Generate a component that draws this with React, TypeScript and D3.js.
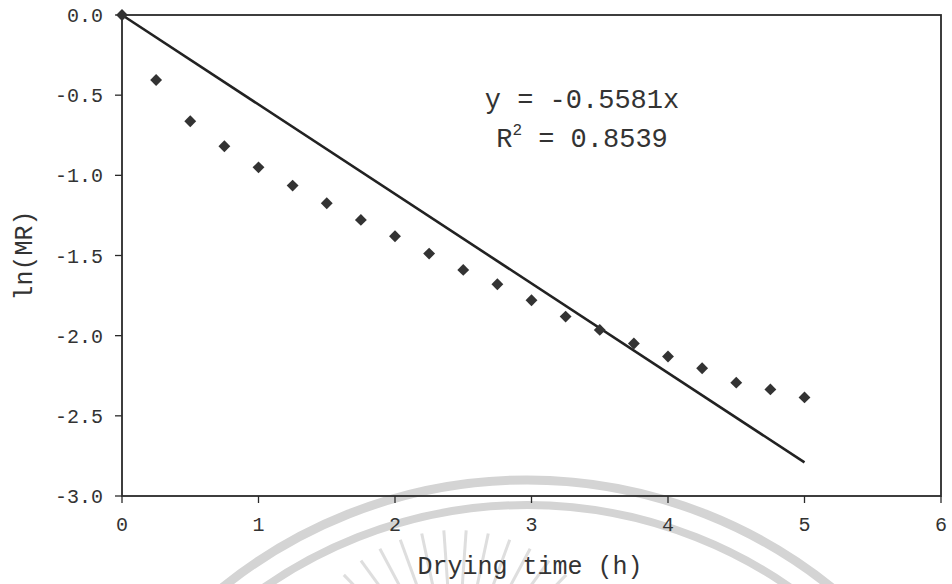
import React from "react";
import * as d3 from "d3";

const timeH = [0, 0.25, 0.5, 0.75, 1, 1.25, 1.5, 1.75, 2, 2.25, 2.5, 2.75, 3, 3.25, 3.5, 3.75, 4, 4.25, 4.5, 4.75, 5];
const lnMR = [0, -0.405, -0.663, -0.819, -0.95, -1.064, -1.174, -1.278, -1.38, -1.488, -1.59, -1.679, -1.779, -1.881, -1.964, -2.049, -2.13, -2.203, -2.293, -2.335, -2.385];
const slope = -0.5581;
const r2 = 0.8539;
const xTicks = [0, 1, 2, 3, 4, 5, 6];
const yTicks = [0, -0.5, -1, -1.5, -2, -2.5, -3];
const fitRange = [0, 5];

const W = 952;
const H = 584;
const FONT = "'Liberation Mono', 'Courier New', 'DejaVu Sans Mono', monospace";

export default function App() {
  const x = d3.scaleLinear().domain([0, 6]).range([122, 941]);
  const y = d3.scaleLinear().domain([-3, 0]).range([496, 15]);
  const [x0, x1] = x.range();
  const [yb, yt] = y.range();

  const fitLine = d3
    .line<number>()
    .x((d) => x(d))
    .y((d) => y(slope * d))(fitRange) as string;

  const diamond = d3.symbol().type(d3.symbolDiamond2).size(90)() as string;

  const rays = d3.range(-150, -28, 8);

  return (
    <div style={{ position: "absolute", left: 0, top: 0 }}>
      <svg width={W} height={H} style={{ display: "block", background: "#fff" }}>
        {/* faint watermark from the scanned page */}
        <g fill="none" stroke="#d4d4d4">
          <circle cx={527} cy={965} r={485} strokeWidth={9} />
          <circle cx={527} cy={965} r={460} strokeWidth={8} />
          {rays.map((a) => {
            const rad = (a * Math.PI) / 180;
            return (
              <line
                key={a}
                x1={455 + 105 * Math.cos(rad)}
                y1={690 + 105 * Math.sin(rad)}
                x2={455 + 160 * Math.cos(rad)}
                y2={690 + 160 * Math.sin(rad)}
                strokeWidth={3}
                stroke="#dedede"
              />
            );
          })}
        </g>

        {/* plot frame */}
        <rect x={x0} y={yt} width={x1 - x0} height={yb - yt} fill="none" stroke="#2a2a2a" strokeWidth={1.8} />

        {/* y ticks */}
        {yTicks.map((t) => (
          <g key={t}>
            <line x1={x0 - 7} x2={x0} y1={y(t)} y2={y(t)} stroke="#2a2a2a" strokeWidth={1.3} />
            <text
              x={x0 - 19}
              y={y(t)}
              dy="0.35em"
              textAnchor="end"
              fontFamily={FONT}
              fontSize={20}
              fill="#333"
            >
              {d3.format(".1f")(t).replace("−", "-")}
            </text>
          </g>
        ))}

        {/* x ticks */}
        {xTicks.map((t) => (
          <g key={t}>
            <line x1={x(t)} x2={x(t)} y1={yb} y2={yb + 7} stroke="#2a2a2a" strokeWidth={1.3} />
            <text x={x(t)} y={yb + 35} textAnchor="middle" fontFamily={FONT} fontSize={20} fill="#333">
              {t}
            </text>
          </g>
        ))}

        {/* fitted line */}
        <path d={fitLine} fill="none" stroke="#222" strokeWidth={2.6} />

        {/* data points */}
        {timeH.map((t, i) => (
          <path key={i} d={diamond} transform={`translate(${x(t)},${y(lnMR[i])})`} fill="#333" />
        ))}

        {/* equation */}
        <text x={582} y={108} textAnchor="middle" fontFamily={FONT} fontSize={27} fill="#333">
          {`y = ${slope}x`}
        </text>
        <text x={582} y={147} textAnchor="middle" fontFamily={FONT} fontSize={27} fill="#333">
          R<tspan fontSize={16} dy={-12}>2</tspan>
          <tspan dy={12}>{` = ${r2}`}</tspan>
        </text>

        {/* axis titles */}
        <text x={530} y={574} textAnchor="middle" fontFamily={FONT} fontSize={25} fill="#333">
          Drying time (h)
        </text>
        <text
          transform={`translate(32,${(yt + yb) / 2}) rotate(-90)`}
          textAnchor="middle"
          fontFamily={FONT}
          fontSize={25}
          fill="#333"
        >
          ln(MR)
        </text>
      </svg>
    </div>
  );
}
